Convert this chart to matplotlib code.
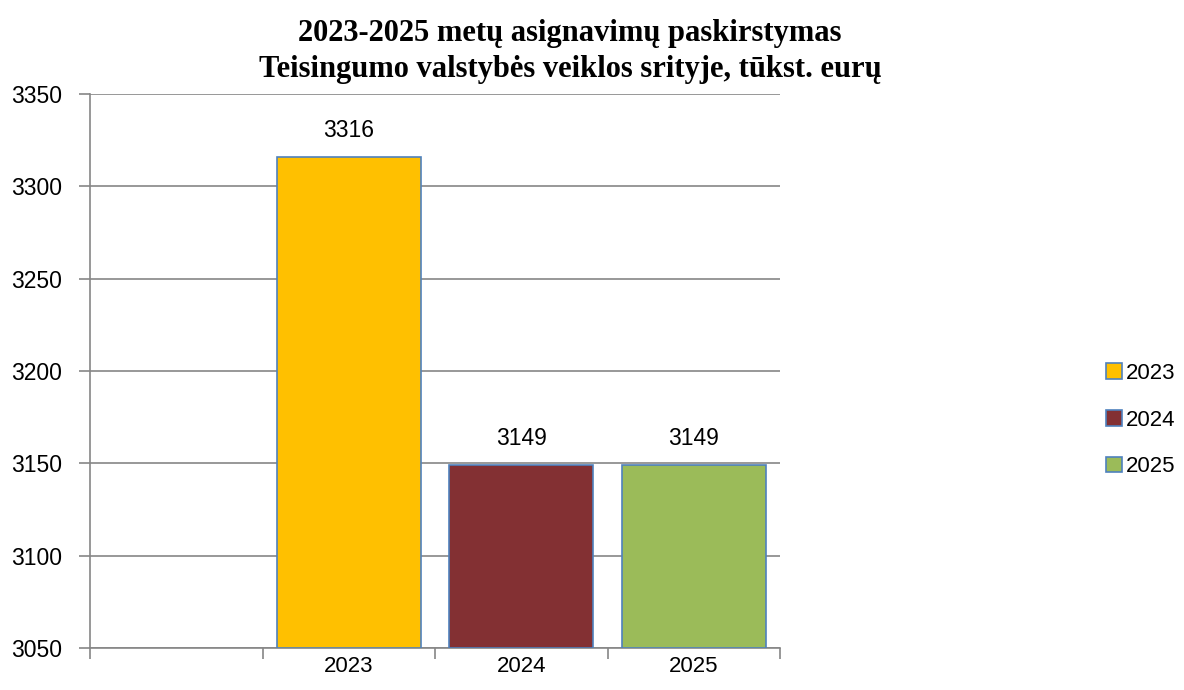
import matplotlib.pyplot as plt

categories = ['', '2023', '2024', '2025']
series = ['2023', '2024', '2025']
values = [3316, 3149, 3149]
colors = ['#FFC000', '#833033', '#9BBB59']

plt.rcParams['font.family'] = ['Liberation Sans', 'DejaVu Sans']

fig = plt.figure(figsize=(11.84, 6.9), dpi=100)
ax = fig.add_axes([90 / 1184, 1 - 648 / 690, 690 / 1184, 554 / 690])

grid_color = '#868686'
handles = []
for i, (name, val, col) in enumerate(zip(series, values, colors)):
    b = ax.bar(i + 1, val - 3050, bottom=3050, width=0.835, color=col,
               edgecolor='#4F81BD', linewidth=1.2, zorder=3, label=name)
    handles.append(b)
    ax.annotate(str(val), (i + 1, val), xytext=(0, 19), textcoords='offset points',
                ha='center', va='center', fontsize=16.5)

ax.set_xlim(-0.5, 3.5)
ax.set_ylim(3050, 3350)
ax.set_yticks(range(3050, 3351, 50))
ax.set_xticks([-0.5, 0.5, 1.5, 2.5, 3.5])
ax.set_xticklabels([])
ax.set_xticks(range(len(categories)), categories, minor=True)
ax.tick_params(axis='x', which='minor', length=0, pad=6, labelsize=16)
ax.tick_params(axis='x', which='major', length=8, color=grid_color, width=1.2)
ax.tick_params(axis='y', length=8, color=grid_color, width=1.2, labelsize=16.5, pad=12)
ax.yaxis.grid(True, color=grid_color, linewidth=1.2, zorder=0)
ax.set_axisbelow(True)
for s in ['top', 'right']:
    ax.spines[s].set_visible(False)
for s in ['left', 'bottom']:
    ax.spines[s].set_color(grid_color)
    ax.spines[s].set_linewidth(1.2)

fig.text(570 / 1184, 1 - 51.5 / 690,
         '2023-2025 metų asignavimų paskirstymas\nTeisingumo valstybės veiklos srityje, tūkst. eurų',
         ha='center', va='center', fontsize=22, fontweight='bold',
         family=['Liberation Serif', 'DejaVu Serif'], linespacing=1.36)

fig.legend(handles=handles, loc='center left', bbox_to_anchor=(1106 / 1184, 1 - 420 / 690),
           frameon=False, fontsize=16, handlelength=0.7, handleheight=0.7,
           handletextpad=0.2, labelspacing=1.15, borderaxespad=0, borderpad=0)

fig.savefig('out.png', dpi=100)
